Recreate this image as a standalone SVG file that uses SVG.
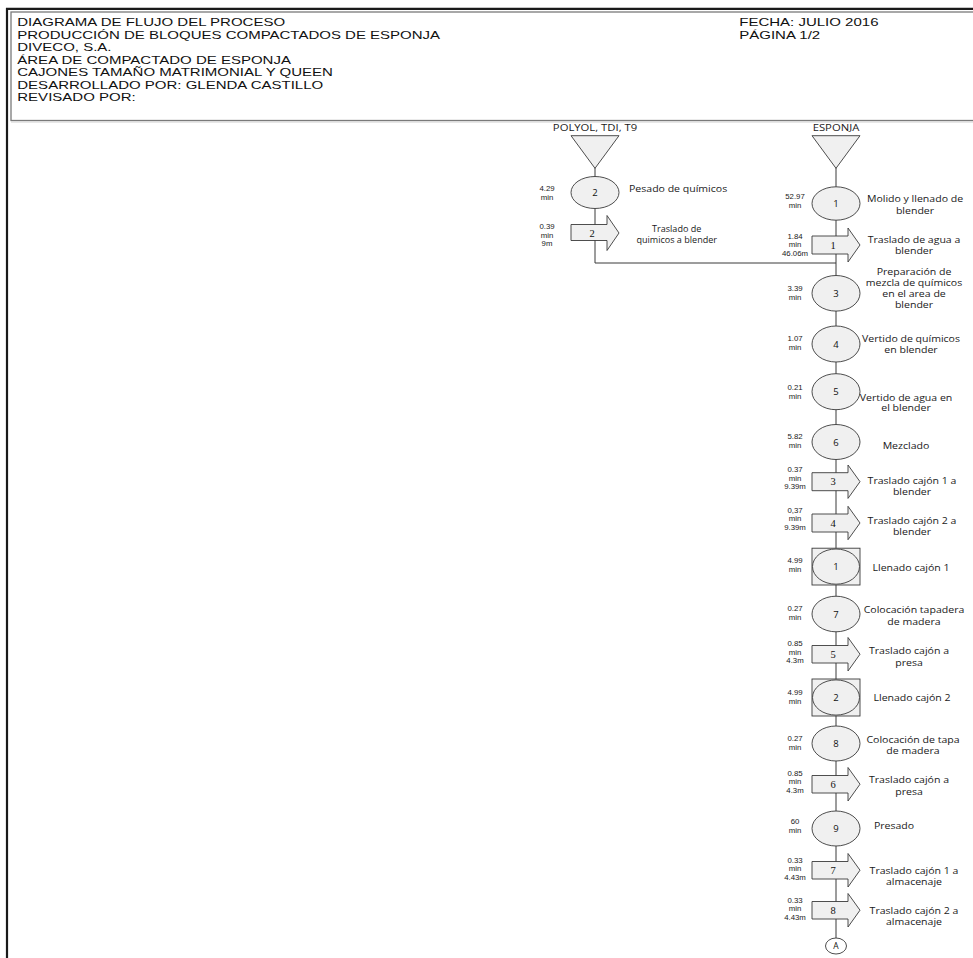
<svg xmlns="http://www.w3.org/2000/svg" width="973" height="958" viewBox="0 0 973 958">
<style>
.hdr{font-family:"Liberation Sans",Arial,sans-serif;font-size:11.2px;fill:#111}
.lbl{font-family:"Open Sans","Noto Sans",sans-serif;font-size:8.8px;fill:#1a1a1a;text-anchor:middle}
.lbs{font-family:"Open Sans","Noto Sans",sans-serif;font-size:8.8px;fill:#1a1a1a}
.tm{font-family:"Liberation Sans",Arial,sans-serif;font-size:7.8px;fill:#1a1a1a;text-anchor:middle}
.num{font-family:"Open Sans","Noto Sans",sans-serif;font-size:9.5px;fill:#111;text-anchor:middle}
.anum{font-family:"Liberation Serif",serif;font-size:10.5px;fill:#111;text-anchor:middle}
.shp{fill:#f0f0f0;stroke:#3a3a3a;stroke-width:0.9}
.con{fill:none;stroke:#3a3a3a;stroke-width:1}
</style>
<rect width="973" height="958" fill="#fff"/>
<!-- frame -->
<path d="M7,958 V8.8 H973" fill="none" stroke="#1a1a1a" stroke-width="2.2"/>
<rect x="11" y="12" width="975" height="108.5" fill="none" stroke="#7a7a7a" stroke-width="1.3"/>
<line x1="11" y1="122" x2="973" y2="122" stroke="#cfcfcf" stroke-width="1"/>
<g id="header" class="hdr" transform="scale(1.34 1)">
<text x="12.9" y="26.3">DIAGRAMA DE FLUJO DEL PROCESO</text>
<text x="12.9" y="38.9">PRODUCCIÓN DE BLOQUES COMPACTADOS DE ESPONJA</text>
<text x="12.9" y="51.4">DIVECO, S.A.</text>
<text x="12.9" y="63.9">ÁREA DE COMPACTADO DE ESPONJA</text>
<text x="12.9" y="76.4">CAJONES TAMAÑO MATRIMONIAL Y QUEEN</text>
<text x="12.9" y="88.9">DESARROLLADO POR: GLENDA CASTILLO</text>
<text x="12.9" y="101.4">REVISADO POR:</text>
<text x="551.7" y="26.3">FECHA: JULIO 2016</text>
<text x="551.7" y="38.9">PÁGINA 1/2</text>
</g>
<!-- connectors -->
<g id="connectors" class="con">
<path d="M595,168 V263 H836"/>
<path d="M836,168 V938"/>
</g>
<!-- left column -->
<g id="in-polyol">
<polygon class="shp" points="571,135.7 619,135.7 595,168.3"/>
<text class="lbl" transform="translate(595 131) scale(1.2 1)" style="font-size:9.4px">POLYOL, TDI, T9</text>
</g>
<g id="op2">
<ellipse class="shp" cx="595" cy="192.5" rx="24" ry="16"/>
<text class="num" x="595" y="196">2</text>
<text class="tm" x="547" y="190.5">4.29</text><text class="tm" x="547" y="199.5">min</text>
<text class="lbs" transform="translate(629 192) scale(1.2 1)">Pesado de químicos</text>
</g>
<g id="tr2">
<path class="shp" d="M571,224.5 H607 V215.5 L619,233 L607,250.5 V240.5 H571 Z"/>
<text class="anum" x="592" y="236.7">2</text>
<text class="tm" x="547" y="229">0.39</text><text class="tm" x="547" y="237.5">min</text><text class="tm" x="547" y="246">9m</text>
<text class="lbl" transform="translate(676.7 0) scale(1.12 1)" style="font-size:8.1px"><tspan x="0" y="232.5">Traslado de</tspan><tspan x="0" y="243">quimicos a blender</tspan></text>
</g>
<!-- right column -->
<g id="in-esponja">
<polygon class="shp" points="812,135.7 860,135.7 836,168.3"/>
<text class="lbl" transform="translate(836 131) scale(1.2 1)" style="font-size:9.4px">ESPONJA</text>
</g>
<g id="op1">
<ellipse class="shp" cx="836" cy="203.5" rx="24" ry="16.7"/>
<text class="num" x="836" y="207">1</text>
<text class="tm" x="795" y="199">52.97</text><text class="tm" x="795" y="208">min</text>
<text class="lbl" transform="translate(915 0) scale(1.2 1)"><tspan x="0" y="202.5">Molido y llenado de</tspan><tspan x="0" y="213.8">blender</tspan></text>
</g>
<g id="tr1">
<path class="shp" d="M812,236 H848 V228 L860,245 L848,262 V254 H812 Z"/>
<text class="anum" x="833" y="248.7">1</text>
<text class="tm" x="795" y="238.5">1.84</text><text class="tm" x="795" y="247">min</text><text class="tm" x="795" y="255.5">46.06m</text>
<text class="lbl" transform="translate(914 0) scale(1.2 1)"><tspan x="0" y="243">Traslado de agua a</tspan><tspan x="0" y="254.5">blender</tspan></text>
</g>
<g id="op3">
<ellipse class="shp" cx="836" cy="293.3" rx="24" ry="17.8"/>
<text class="num" x="836" y="296.8">3</text>
<text class="tm" x="795" y="290.8">3.39</text><text class="tm" x="795" y="299.8">min</text>
<text class="lbl" transform="translate(914 0) scale(1.2 1)"><tspan x="0" y="275.5">Preparación de</tspan><tspan x="0" y="286.5">mezcla de químicos</tspan><tspan x="0" y="297.5">en el area de</tspan><tspan x="0" y="308.5">blender</tspan></text>
</g>
<g id="op4">
<ellipse class="shp" cx="836" cy="344" rx="24" ry="18"/>
<text class="num" x="836" y="347.5">4</text>
<text class="tm" x="795" y="340.8">1.07</text><text class="tm" x="795" y="349.8">min</text>
<text class="lbl" transform="translate(911 0) scale(1.2 1)"><tspan x="0" y="342">Vertido de químicos</tspan><tspan x="0" y="353">en blender</tspan></text>
</g>
<g id="op5">
<ellipse class="shp" cx="836" cy="391.7" rx="24" ry="18"/>
<text class="num" x="836" y="395.2">5</text>
<text class="tm" x="795" y="389.8">0.21</text><text class="tm" x="795" y="399.2">min</text>
<text class="lbl" transform="translate(906 0) scale(1.2 1)"><tspan x="0" y="400.7">Vertido de agua en</tspan><tspan x="0" y="411.5">el blender</tspan></text>
</g>
<g id="op6">
<ellipse class="shp" cx="836" cy="442" rx="24" ry="17.5"/>
<text class="num" x="836" y="445.5">6</text>
<text class="tm" x="795" y="439.3">5.82</text><text class="tm" x="795" y="448.3">min</text>
<text class="lbl" transform="translate(906 448.5) scale(1.2 1)">Mezclado</text>
</g>
<g id="tr3">
<path class="shp" d="M812,472.7 H848 V465 L860,481.7 L848,498.4 V490.7 H812 Z"/>
<text class="anum" x="833" y="485.4">3</text>
<text class="tm" x="795" y="472">0.37</text><text class="tm" x="795" y="480.5">min</text><text class="tm" x="795" y="489">9.39m</text>
<text class="lbl" transform="translate(912 0) scale(1.2 1)"><tspan x="0" y="484">Traslado cajón 1 a</tspan><tspan x="0" y="495">blender</tspan></text>
</g>
<g id="tr4">
<path class="shp" d="M812,514 H848 V506.3 L860,523 L848,539.7 V532 H812 Z"/>
<text class="anum" x="833" y="526.7">4</text>
<text class="tm" x="795" y="512.5">0,37</text><text class="tm" x="795" y="521">min</text><text class="tm" x="795" y="529.5">9.39m</text>
<text class="lbl" transform="translate(912 0) scale(1.2 1)"><tspan x="0" y="524.5">Traslado cajón 2 a</tspan><tspan x="0" y="535.5">blender</tspan></text>
</g>
<g id="sq1">
<rect class="shp" x="812" y="548.2" width="48" height="36.8"/>
<ellipse class="shp" cx="836" cy="566.6" rx="23.5" ry="17.6"/>
<text class="num" x="836" y="570.1">1</text>
<text class="tm" x="795" y="563">4.99</text><text class="tm" x="795" y="572">min</text>
<text class="lbl" transform="translate(911 571) scale(1.2 1)">Llenado cajón 1</text>
</g>
<g id="op7">
<ellipse class="shp" cx="836" cy="614" rx="24" ry="17.8"/>
<text class="num" x="836" y="617.5">7</text>
<text class="tm" x="795" y="611">0.27</text><text class="tm" x="795" y="620">min</text>
<text class="lbl" transform="translate(914 0) scale(1.2 1)"><tspan x="0" y="613.5">Colocación tapadera</tspan><tspan x="0" y="625">de madera</tspan></text>
</g>
<g id="tr5">
<path class="shp" d="M812,645.5 H848 V637.5 L860,654.2 L848,671 V663 H812 Z"/>
<text class="anum" x="833" y="657.9">5</text>
<text class="tm" x="795" y="646">0.85</text><text class="tm" x="795" y="654.5">min</text><text class="tm" x="795" y="663">4.3m</text>
<text class="lbl" transform="translate(909 0) scale(1.2 1)"><tspan x="0" y="654.5">Traslado cajón a</tspan><tspan x="0" y="666">presa</tspan></text>
</g>
<g id="sq2">
<rect class="shp" x="812" y="679" width="48" height="37"/>
<ellipse class="shp" cx="836" cy="697.5" rx="23.5" ry="17.6"/>
<text class="num" x="836" y="701">2</text>
<text class="tm" x="795" y="695">4.99</text><text class="tm" x="795" y="704">min</text>
<text class="lbl" transform="translate(912 701) scale(1.2 1)">Llenado cajón 2</text>
</g>
<g id="op8">
<ellipse class="shp" cx="836" cy="743.5" rx="24" ry="17.5"/>
<text class="num" x="836" y="747">8</text>
<text class="tm" x="795" y="741">0.27</text><text class="tm" x="795" y="750">min</text>
<text class="lbl" transform="translate(913 0) scale(1.2 1)"><tspan x="0" y="743">Colocación de tapa</tspan><tspan x="0" y="754.5">de madera</tspan></text>
</g>
<g id="tr6">
<path class="shp" d="M812,775.5 H848 V767.5 L860,784.2 L848,801 V793 H812 Z"/>
<text class="anum" x="833" y="787.9">6</text>
<text class="tm" x="795" y="775.5">0.85</text><text class="tm" x="795" y="784">min</text><text class="tm" x="795" y="792.5">4.3m</text>
<text class="lbl" transform="translate(909 0) scale(1.2 1)"><tspan x="0" y="783.5">Traslado cajón a</tspan><tspan x="0" y="795">presa</tspan></text>
</g>
<g id="op9">
<ellipse class="shp" cx="836" cy="828.5" rx="24" ry="17.5"/>
<text class="num" x="836" y="832">9</text>
<text class="tm" x="795" y="824">60</text><text class="tm" x="795" y="833">min</text>
<text class="lbl" transform="translate(894 829) scale(1.2 1)">Presado</text>
</g>
<g id="tr7">
<path class="shp" d="M812,861.5 H848 V853.5 L860,870.2 L848,887 V879 H812 Z"/>
<text class="anum" x="833" y="873.9">7</text>
<text class="tm" x="795" y="862.5">0.33</text><text class="tm" x="795" y="871">min</text><text class="tm" x="795" y="879.5">4.43m</text>
<text class="lbl" transform="translate(914 0) scale(1.2 1)"><tspan x="0" y="873.7">Traslado cajón 1 a</tspan><tspan x="0" y="885">almacenaje</tspan></text>
</g>
<g id="tr8">
<path class="shp" d="M812,901.5 H848 V893.5 L860,910.2 L848,927 V919 H812 Z"/>
<text class="anum" x="833" y="913.9">8</text>
<text class="tm" x="795" y="902.5">0.33</text><text class="tm" x="795" y="911">min</text><text class="tm" x="795" y="919.5">4.43m</text>
<text class="lbl" transform="translate(914 0) scale(1.2 1)"><tspan x="0" y="914">Traslado cajón 2 a</tspan><tspan x="0" y="925.5">almacenaje</tspan></text>
</g>
<g id="conA">
<ellipse cx="836" cy="946" rx="10.5" ry="8" fill="#fff" stroke="#3a3a3a" stroke-width="0.9"/>
<text class="num" x="836" y="949" style="font-size:8.5px">A</text>
</g>
</svg>
